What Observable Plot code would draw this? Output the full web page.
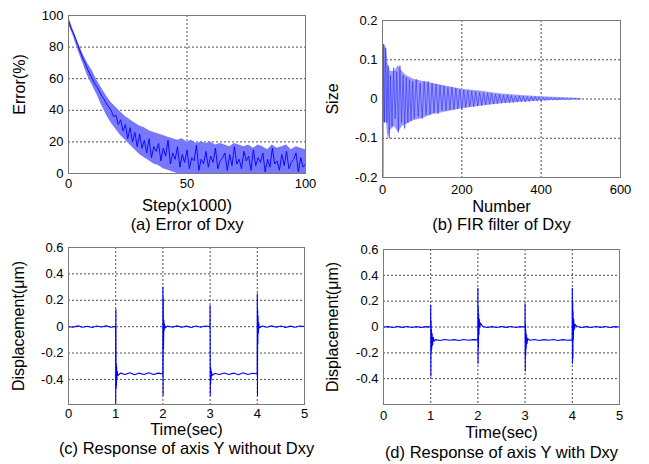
<!DOCTYPE html>
<html><head><meta charset="utf-8">
<script src="https://cdn.jsdelivr.net/npm/d3@7"></script>
<script src="https://cdn.jsdelivr.net/npm/@observablehq/plot@0.6"></script>
<style>
body{margin:0;background:#fff;}
#fig{position:relative;width:649px;height:464px;overflow:hidden;}
</style></head><body><div id="fig"></div>
<script>
// ---------- (a) Error of Dxy ----------
const aEnvStep = [0,2,4,6,8,10,12,14,16,18,20,22,24,26,28,30,32,34,36,38,40,42,44,46,48,50,52,54,56,58,60,62,64,66,68,70,72,74,76,78,80,82,84,86,88,90,92,94,96,98,100];
const aUpper = [99,91,83,76,70,65,59,54,49,45,42,39,36,34,32,30,29,27,26,25,24,23,22,21,22,20,21,19,20,19,20,18,19,18,17,19,18,17,18,16,18,17,15,18,16,17,18,15,17,16,15];
const aLower = [95,87,78,70,62,56,50,43,37,32,28,24,21,18,15,12,10,8,6,5,3,2,1,0,0,0,0,0,0,0,0,0,0,0,0,0,0,0,0,0,0,0,0,0,0,0,0,0,0,0,0];
const aStep = [0,1,2,3,4,5,6,7,8,9,10,11,12,13,14,15,16,17,18,19,20,21,22,23,24,25,26,27,28,29,30,31,32,33,34,35,36,37,38,39,40,41,42,43,44,45,46,47,48,49,50,51,52,53,54,55,56,57,58,59,60,61,62,63,64,65,66,67,68,69,70,71,72,73,74,75,76,77,78,79,80,81,82,83,84,85,86,87,88,89,90,91,92,93,94,95,96,97,98,99,100];
const aError = [97,92,89,85,81,77,73,70,66,63,60,57,55,52,49,47,44,42,40,36,37,31,34,27,31,22,29,20,26,17,25,16,21,13,22,10,17,14,19,8,16,11,21,6,13,9,17,4,12,7,15,3,10,8,18,2,9,6,14,4,11,7,16,3,8,10,13,2,12,5,17,6,9,3,14,8,11,2,15,5,10,7,13,1,9,4,16,6,8,2,12,5,14,3,7,9,13,1,10,4,6];
const aXTicks = [0,50,100];
const aYTicks = [0,20,40,60,80,100];

// ---------- (b) FIR filter of Dxy ----------
const bEnvNumber = [0,3,10,14,20,30,40,50,60,80,100,125,150,175,200,250,300,350,400,450,500];
const bUpper = [0.02,0.14,0.13,0.09,0.07,0.07,0.085,0.07,0.06,0.05,0.045,0.04,0.035,0.03,0.025,0.02,0.013,0.009,0.006,0.004,0.001];
const bLower = [0,-0.06,-0.06,-0.1,-0.08,-0.07,-0.085,-0.07,-0.065,-0.055,-0.05,-0.04,-0.035,-0.03,-0.025,-0.018,-0.012,-0.008,-0.005,-0.003,-0.001];
const bNumber = [0,1,3,5,8,11,14,17,20,24,28,32,36,40,44,48,52,56,60,64,68,72,76,80,85,90,95,100,105,110,115,120,125,130,135,140,145,150,155,160,165,170,175,180,185,190,195,200,205,210,215,220,225,230,235,240,245,250,255,260,265,270,275,280,285,290,295,300,305,310,315,320,325,330,335,340,345,350,355,360,365,370,375,380,385,390,395,400,405,410,415,420,425,430,435,440,445,450,455,460,465,470,475,480,485,490,495,500];
const bSize = [0.02,-0.2,0.14,-0.06,0.13,-0.06,0.085,-0.1,0.06,-0.07,0.08,-0.05,0.07,-0.085,0.085,-0.06,0.06,-0.075,0.055,-0.06,0.05,-0.055,0.045,-0.05,0.05,-0.045,0.04,-0.05,0.045,-0.04,0.045,-0.04,0.04,-0.035,0.038,-0.038,0.035,-0.03,0.033,-0.03,0.03,-0.028,0.03,-0.027,0.028,-0.025,0.025,-0.025,0.023,-0.022,0.022,-0.02,0.02,-0.02,0.019,-0.018,0.017,-0.017,0.016,-0.015,0.015,-0.014,0.014,-0.013,0.012,-0.012,0.012,-0.011,0.01,-0.01,0.01,-0.009,0.009,-0.009,0.008,-0.008,0.008,-0.007,0.007,-0.007,0.006,-0.006,0.006,-0.005,0.006,-0.005,0.005,-0.005,0.004,-0.004,0.004,-0.003,0.004,-0.003,0.003,-0.003,0.003,-0.002,0.003,-0.002,0.002,-0.002,0.002,-0.001,0.002,-0.001,0.001,0];
const bXTicks = [0,200,400,600];
const bYTicks = [-0.2,-0.1,0,0.1,0.2];

// ---------- (c) Response of axis Y without Dxy ----------
const cTime = [0,0.1,0.2,0.3,0.4,0.5,0.6,0.7,0.8,0.9,0.998,
  1.0,1.004,1.008,1.012,1.016,1.02,1.026,1.034,1.045,1.1,1.2,1.3,1.4,1.5,1.6,1.7,1.8,1.9,1.998,
  2.0,2.004,2.008,2.012,2.016,2.02,2.026,2.034,2.045,2.1,2.2,2.3,2.4,2.5,2.6,2.7,2.8,2.9,2.998,
  3.0,3.004,3.008,3.012,3.016,3.022,3.03,3.04,3.1,3.2,3.3,3.4,3.5,3.6,3.7,3.8,3.9,3.998,
  4.0,4.004,4.008,4.012,4.016,4.022,4.03,4.04,4.1,4.2,4.3,4.4,4.5,4.6,4.7,4.8,4.9,5.0];
const cDisp = [0,-0.004,0.006,-0.005,0.003,-0.006,0.005,-0.003,0.006,-0.004,0.002,
  -0.58,0.13,-0.47,-0.28,-0.45,-0.3,-0.4,-0.34,-0.37,-0.352,-0.362,-0.35,-0.364,-0.352,-0.362,-0.35,-0.363,-0.352,-0.358,
  0.3,-0.52,0.22,-0.17,-0.08,0.05,-0.03,0.02,-0.01,0.005,-0.004,0.006,-0.005,0.004,-0.006,0.005,-0.004,0.005,0,
  0.16,-0.52,-0.3,-0.43,-0.32,-0.4,-0.34,-0.37,-0.355,-0.363,-0.351,-0.362,-0.352,-0.364,-0.35,-0.362,-0.353,-0.358,
  0.25,-0.52,0.13,-0.13,0.08,-0.05,0.03,-0.01,0.005,-0.005,0.006,-0.004,0.005,-0.006,0.004,-0.005,0.005,0];

// ---------- (d) Response of axis Y with Dxy ----------
const dTime = [0,0.1,0.2,0.3,0.4,0.5,0.6,0.7,0.8,0.9,0.998,
  1.0,1.004,1.008,1.012,1.016,1.022,1.03,1.04,1.055,1.07,1.1,1.2,1.3,1.4,1.5,1.6,1.7,1.8,1.9,1.998,
  2.0,2.004,2.008,2.012,2.016,2.022,2.03,2.04,2.055,2.1,2.2,2.3,2.4,2.5,2.6,2.7,2.8,2.9,2.998,
  3.0,3.004,3.008,3.012,3.016,3.022,3.03,3.04,3.055,3.1,3.2,3.3,3.4,3.5,3.6,3.7,3.8,3.9,3.998,
  4.0,4.004,4.008,4.012,4.016,4.022,4.03,4.04,4.055,4.1,4.2,4.3,4.4,4.5,4.6,4.7,4.8,4.9,5.0];
const dDisp = [0,0.003,-0.004,0.004,-0.003,0.004,-0.004,0.003,-0.004,0.003,0,
  0.17,-0.38,0.05,-0.2,-0.02,-0.17,-0.05,-0.14,-0.08,-0.11,-0.098,-0.104,-0.097,-0.103,-0.098,-0.104,-0.097,-0.103,-0.098,-0.1,
  0.3,-0.28,0.16,-0.16,0.1,-0.06,0.06,0.0,0.03,0.004,-0.004,0.003,-0.004,0.004,-0.003,0.004,-0.004,0.003,0,
  0.18,-0.34,0.02,-0.22,-0.03,-0.17,-0.06,-0.13,-0.09,-0.103,-0.097,-0.104,-0.098,-0.103,-0.097,-0.104,-0.098,-0.102,-0.1,
  0.3,-0.28,0.2,-0.24,0.12,-0.1,0.06,-0.02,0.02,0.004,-0.004,0.003,-0.004,0.004,-0.003,0.004,-0.004,0.003,0];
const tTicks = [0,1,2,3,4,5];
const dispTicks = [-0.4,-0.2,0,0.2,0.4,0.6];

// ---------- labels ----------
const labels = {
  a: {x: "Step(x1000)", y: "Error(%)", caption: "(a) Error of Dxy"},
  b: {x: "Number", y: "Size", caption: "(b) FIR filter of Dxy"},
  c: {x: "Time(sec)", y: "Displacement(\u03BCm)", caption: "(c) Response of axis Y without Dxy"},
  d: {x: "Time(sec)", y: "Displacement(\u03BCm)", caption: "(d) Response of axis Y with Dxy"}
};

const DARK = "#0000ff", LIGHT = "#7878ff";
const fmt = d => d === 0 ? "0" : String(d);
const gridStyle = {stroke: "#222", strokeOpacity: 1, strokeDasharray: "2,2", strokeWidth: 0.8};
const txt = {textAnchor: "middle", lineAnchor: "middle", fill: "#000"};

function panel(o) {
  const marks = [
    Plot.gridX(o.xGrid, gridStyle),
    Plot.gridY(o.yGrid, gridStyle),
    ...o.marks,
    Plot.frame({stroke: "#7a7a7a"}),
    Plot.axisX(o.xTicks, {tickSize: 0, tickPadding: o.xPad, tickFormat: fmt, fontSize: 13, label: null}),
    Plot.axisY(o.yTicks, {tickSize: 0, tickPadding: 5, tickFormat: fmt, fontSize: 13, label: null}),
    Plot.text([o.lab.x], {...txt, frameAnchor: "bottom", dy: o.xLabDy, fontSize: 16.5}),
    Plot.text([o.lab.caption], {...txt, frameAnchor: "bottom", dy: o.capDy, fontSize: 16.5}),
    Plot.text([o.lab.y], {...txt, frameAnchor: "left", dx: o.yLabDx, dy: o.yLabDy || 0, rotate: -90, fontSize: 16})
  ];
  const svg = Plot.plot({
    width: o.width, height: o.height,
    marginLeft: o.ml, marginRight: o.mr, marginTop: o.mt, marginBottom: o.mb,
    style: {fontFamily: "Arial, 'Liberation Sans', sans-serif", color: "#000", background: "transparent", overflow: "visible"},
    x: {domain: o.xDomain, label: null},
    y: {domain: o.yDomain, label: null},
    marks
  });
  svg.style.position = "absolute";
  svg.style.left = o.left + "px";
  svg.style.top = o.top + "px";
  document.getElementById("fig").appendChild(svg);
}

// (a)
panel({
  left: 0, top: 0, width: 325, height: 235, ml: 68, mr: 20, mt: 15, mb: 62,
  xDomain: [0, 100], yDomain: [0, 100], xTicks: aXTicks, yTicks: aYTicks,
  xGrid: [50], yGrid: [20, 40, 60, 80], xPad: 5, xLabDy: 32, capDy: 51, yLabDx: -49, yLabDy: -10,
  lab: labels.a,
  marks: [
    Plot.areaY(aEnvStep, {x: d => d, y1: (d, i) => aLower[i], y2: (d, i) => aUpper[i], fill: LIGHT}),
    Plot.lineY(aStep, {x: d => d, y: (d, i) => aError[i], stroke: DARK, strokeWidth: 0.9})
  ]
});

// (b)
panel({
  left: 325, top: 0, width: 324, height: 235, ml: 57, mr: 29, mt: 20, mb: 58,
  xDomain: [0, 600], yDomain: [-0.2, 0.2], xTicks: bXTicks, yTicks: bYTicks,
  xGrid: [200, 400], yGrid: [-0.1, 0, 0.1], xPad: 7, xLabDy: 29, capDy: 47, yLabDx: -50,
  lab: labels.b,
  marks: [
    Plot.areaY(bEnvNumber, {x: d => d, y1: (d, i) => bLower[i], y2: (d, i) => bUpper[i], fill: "#9a9aff"}),
    Plot.lineY(bNumber, {x: d => d, y: (d, i) => bSize[i], stroke: "#2222ff", strokeWidth: 0.55})
  ]
});

// (c)
panel({
  left: 0, top: 235, width: 325, height: 229, ml: 68, mr: 21, mt: 12, mb: 60,
  xDomain: [0, 5], yDomain: [-0.59, 0.6], xTicks: tTicks, yTicks: dispTicks,
  xGrid: [1, 2, 3, 4], yGrid: [-0.4, -0.2, 0, 0.2, 0.4], xPad: 4, xLabDy: 25, capDy: 44, yLabDx: -50,
  lab: labels.c,
  marks: [
    Plot.lineY(cTime, {x: d => d, y: (d, i) => cDisp[i], stroke: DARK, strokeWidth: 1.1})
  ]
});

// (d)
panel({
  left: 325, top: 235, width: 324, height: 229, ml: 58, mr: 30, mt: 14, mb: 60,
  xDomain: [0, 5], yDomain: [-0.6, 0.6], xTicks: tTicks, yTicks: dispTicks,
  xGrid: [1, 2, 3, 4], yGrid: [-0.4, -0.2, 0, 0.2, 0.4], xPad: 6, xLabDy: 28, capDy: 48, yLabDx: -51,
  lab: labels.d,
  marks: [
    Plot.lineY(dTime, {x: d => d, y: (d, i) => dDisp[i], stroke: DARK, strokeWidth: 1.1})
  ]
});
</script></body></html>
